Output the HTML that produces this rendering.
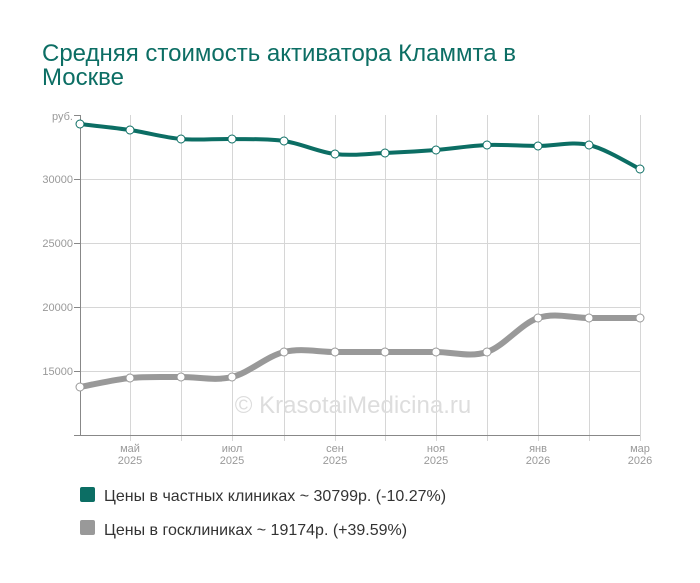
<!DOCTYPE html>
<html><head><meta charset="utf-8"><style>
body{margin:0;background:#fff;width:700px;height:578px;overflow:hidden;font-family:"Liberation Sans",sans-serif}
</style></head><body>
<svg id="s" width="700" height="578" xmlns="http://www.w3.org/2000/svg" font-family="Liberation Sans, sans-serif">
<text x="42" y="61" font-size="24" fill="#0c6e64">Средняя стоимость активатора Кламмта в</text>
<text x="42" y="85" font-size="24" fill="#0c6e64">Москве</text>
<g stroke="#d6d6d6" stroke-width="1">
<line x1="80" y1="179.5" x2="640" y2="179.5"/><line x1="80" y1="243.5" x2="640" y2="243.5"/>
<line x1="80" y1="307.5" x2="640" y2="307.5"/><line x1="80" y1="371.5" x2="640" y2="371.5"/>
<g id="vg"></g>
</g>
<g stroke="#888" stroke-width="1">
<line x1="80.5" y1="115" x2="80.5" y2="436"/><line x1="74" y1="435.5" x2="640" y2="435.5"/>
<line x1="74" y1="115.5" x2="80" y2="115.5"/><line x1="74" y1="179.5" x2="80" y2="179.5"/>
<line x1="74" y1="243.5" x2="80" y2="243.5"/><line x1="74" y1="307.5" x2="80" y2="307.5"/>
<line x1="74" y1="371.5" x2="80" y2="371.5"/>
</g>
<g font-size="11" fill="#999" text-anchor="end">
<text x="73" y="120">руб.</text><text x="73" y="183">30000</text><text x="73" y="247">25000</text>
<text x="73" y="311">20000</text><text x="73" y="375">15000</text>
</g>
<g font-size="11" fill="#999" text-anchor="middle">
<text x="130" y="452">май</text><text x="130" y="464">2025</text>
<text x="232" y="452">июл</text><text x="232" y="464">2025</text>
<text x="335" y="452">сен</text><text x="335" y="464">2025</text>
<text x="436" y="452">ноя</text><text x="436" y="464">2025</text>
<text x="538" y="452">янв</text><text x="538" y="464">2026</text>
<text x="640" y="452">мар</text><text x="640" y="464">2026</text>
</g>
<text x="353" y="413" font-size="24" fill="#ddd" text-anchor="middle">© KrasotaiMedicina.ru</text>
<path id="p1" fill="none" stroke="#0c6e64" stroke-width="4"/>
<path id="p2" fill="none" stroke="#999" stroke-width="6"/>
<g id="dots" fill="#fff" stroke-width="1"></g>
<rect x="80" y="487" width="15" height="15" rx="2" fill="#0c6e64"/>
<text x="104" y="501" font-size="16" fill="#333">Цены в частных клиниках ~ 30799р. (-10.27%)</text>
<rect x="80" y="520" width="15" height="15" rx="2" fill="#999"/>
<text x="104" y="535" font-size="16" fill="#333">Цены в госклиниках ~ 19174р. (+39.59%)</text>
</svg>
<script>
var xs=[80,130,181,232,284,335,385,436,487,538,589,640];
var g=[124,130,139,139,141,154,153,150,145,146,145,169];
var r=[387,378,377,377,352,352,352,352,352,318,318,318];
var vg=document.getElementById('vg'),ns='http://www.w3.org/2000/svg';
for(var i=1;i<xs.length;i++){var l=document.createElementNS(ns,'line');l.setAttribute('x1',xs[i]+.5);l.setAttribute('x2',xs[i]+.5);l.setAttribute('y1',115);l.setAttribute('y2',441);vg.appendChild(l);}
function path(ys){var d='M'+xs[0]+' '+ys[0];for(var i=0;i<xs.length-1;i++){var x0=xs[Math.max(i-1,0)],y0=ys[Math.max(i-1,0)],x1=xs[i],y1=ys[i],x2=xs[i+1],y2=ys[i+1],x3=xs[Math.min(i+2,xs.length-1)],y3=ys[Math.min(i+2,xs.length-1)];var t=1/6;d+=' C'+(x1+(x2-x0)*t)+' '+(y1+(y2-y0)*t)+' '+(x2-(x3-x1)*t)+' '+(y2-(y3-y1)*t)+' '+x2+' '+y2;}return d;}
document.getElementById('p1').setAttribute('d',path(g));
document.getElementById('p2').setAttribute('d',path(r));
var dots=document.getElementById('dots');
[[g,'#0c6e64'],[r,'#999']].forEach(function(a){for(var i=0;i<xs.length;i++){var c=document.createElementNS(ns,'circle');c.setAttribute('cx',xs[i]);c.setAttribute('cy',a[0][i]);c.setAttribute('r',4);c.setAttribute('stroke',a[1]);dots.appendChild(c);}});
</script>
</body></html>
